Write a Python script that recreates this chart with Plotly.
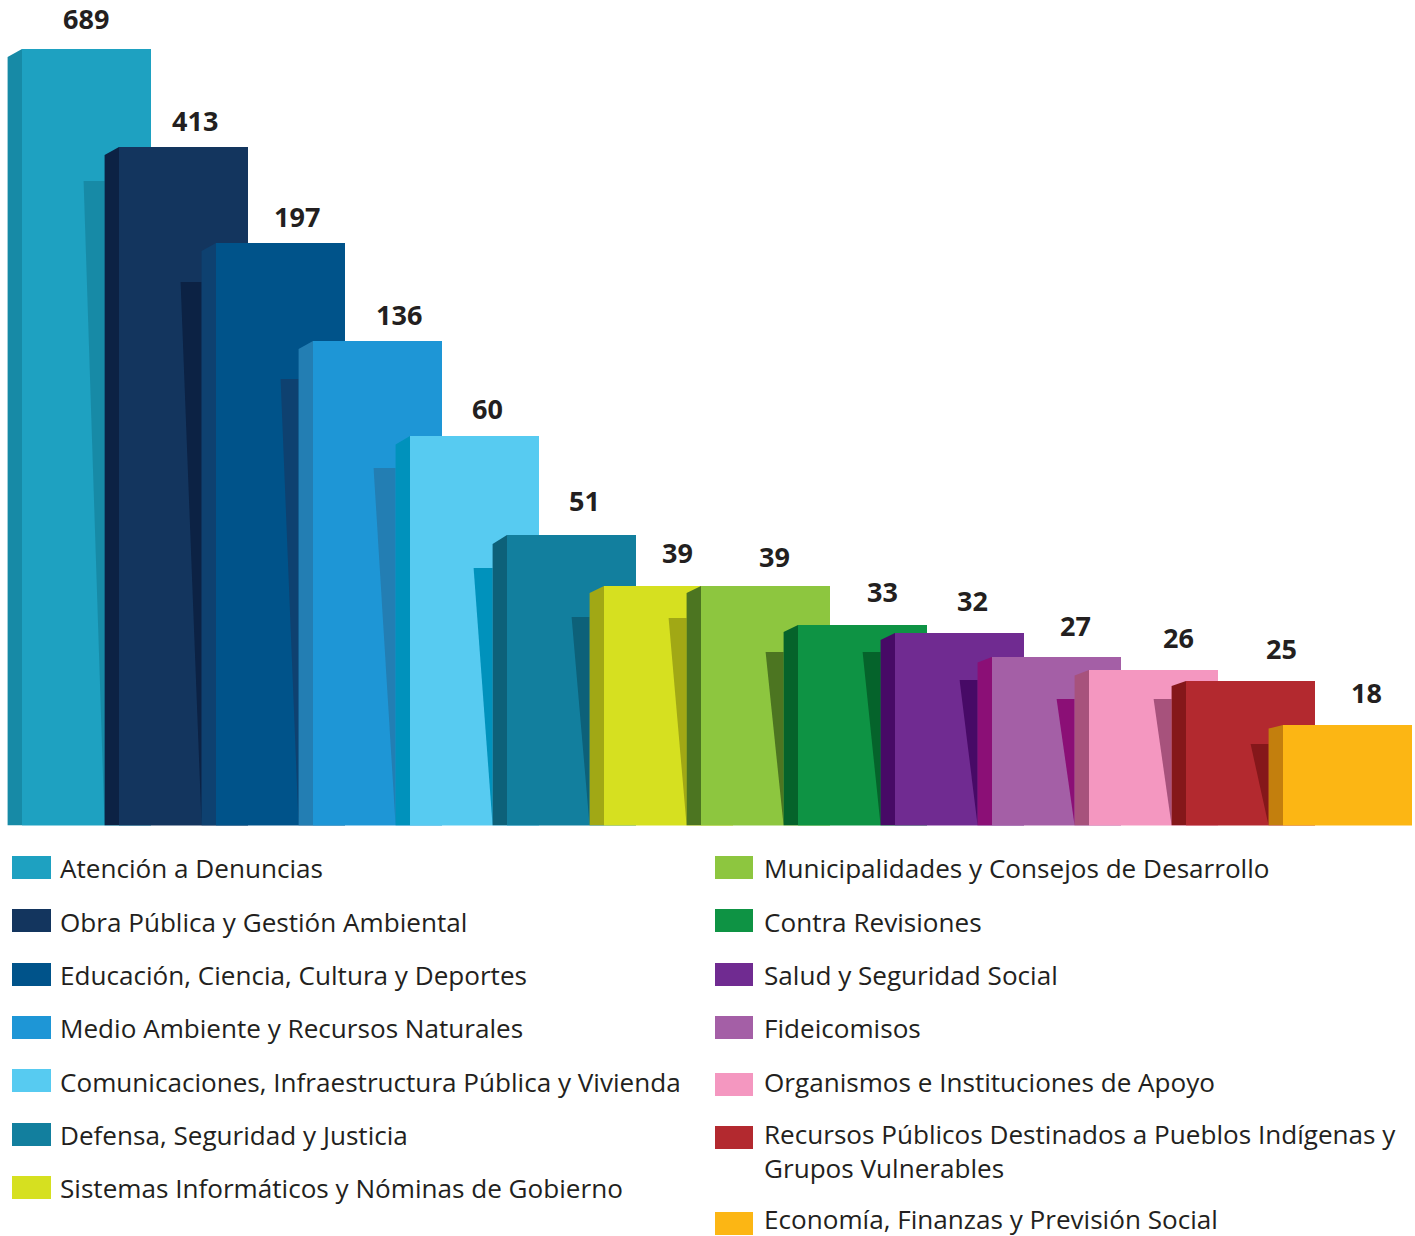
import plotly.graph_objects as go

# ---- data ----
categories = [
    "Atención a Denuncias", "Obra Pública y Gestión Ambiental",
    "Educación, Ciencia, Cultura y Deportes", "Medio Ambiente y Recursos Naturales",
    "Comunicaciones, Infraestructura Pública y Vivienda", "Defensa, Seguridad y Justicia",
    "Sistemas Informáticos y Nóminas de Gobierno", "Municipalidades y Consejos de Desarrollo",
    "Contra Revisiones", "Salud y Seguridad Social", "Fideicomisos",
    "Organismos e Instituciones de Apoyo",
    "Recursos Públicos Destinados a Pueblos Indígenas y<br>Grupos Vulnerables",
    "Economía, Finanzas y Previsión Social",
]
values = [689, 413, 197, 136, 60, 51, 39, 39, 33, 32, 27, 26, 25, 18]
# the original's bars are not to a linear scale: drawn height
drawn_height = [776.5, 678.5, 582.5, 484.5, 389.5, 290.5, 239.5, 239.5, 200.5, 192.5, 168.5, 155.5, 144.5, 100.5]
shadow_height = [644.5, 543.5, 446.5, 357.5, 257.5, 208.5, 207.5, 173.5, 173.5, 145.5, 126.5, 126.5, 81.5]
front_colors = ["#1EA1C1", "#13355E", "#00538A", "#1E96D6", "#57CBF1", "#127F9E", "#D6E020",
                "#8DC63F", "#0E9344", "#702B91", "#A45FA6", "#F497C0", "#B3292F", "#FCB614"]
side_colors = ["#178AA6", "#0C2244", "#0E4170", "#237EB3", "#0092BC", "#0D6179", "#A1A815",
               "#4C7521", "#05632B", "#470A66", "#8B0F76", "#A7527C", "#85171A", "#C37F0D"]

# ---- layout constants (pixels) ----
W, H = 1415, 1236
BASE = 825.5
PITCH = 97.0
BAR_W = 129.0
FIRST_CENTER = 86.5
SIDE_W = 14.4
shadow_w = [21, 21, 18, 22, 19, 18, 18, 18, 18, 18, 18, 18, 18]
side_drop = [8, 8, 8, 8, 8.5, 9, 7, 7, 7, 7, 5.5, 5.5, 5, 3.5]
label_dx = [-1, 11, 16, 21, 13, 13, 9, 9, 20, 13, 19, 25, 31, 19]
label_dy = [31, 27, 27, 27, 28, 35, 34, 30, 34, 33, 32, 33, 33, 33]
swatch_top = [856, 909, 963, 1016, 1069, 1123, 1176, 856, 909, 963, 1016, 1073, 1126, 1212]
text_row = [867.5, 921.5, 974.5, 1027.5, 1081.5, 1134.5, 1187.5,
            867.5, 921.5, 974.5, 1027.5, 1081.5, 1150.5, 1218.5]
SWATCH_H = 23
FONT = "Open Sans"
TEXT = "#231F20"
LABEL_SIZE = 27
LEGEND_SIZE = 26.1

n = len(values)
idx = list(range(n))
unit = 1 / PITCH

fig = go.Figure()
# front faces: one bar trace per category, later ones paint over earlier ones
for i in idx:
    fig.add_trace(go.Bar(x=[i], y=[drawn_height[i]], width=BAR_W * unit,
                         marker=dict(color=front_colors[i], line=dict(width=0)),
                         name=categories[i], showlegend=False))
# shaded faces and cast shadows
for i in idx:
    left = i - (BAR_W / 2) * unit
    h = drawn_height[i]
    fig.add_trace(go.Scatter(
        x=[left - SIDE_W * unit, left, left, left - SIDE_W * unit, left - SIDE_W * unit],
        y=[h - side_drop[i], h, 0, 0, h - side_drop[i]],
        mode="lines", line=dict(width=0), fill="toself", fillcolor=side_colors[i],
        showlegend=False, hoverinfo="skip"))
    if i < len(shadow_height):
        right = left + (PITCH - SIDE_W) * unit
        s = shadow_height[i]
        fig.add_trace(go.Scatter(
            x=[right - shadow_w[i] * unit, right, right, right - shadow_w[i] * unit],
            y=[s, s, 0, s],
            mode="lines", line=dict(width=0), fill="toself", fillcolor=side_colors[i],
            showlegend=False, hoverinfo="skip"))

annotations = []
for i in idx:
    annotations.append(dict(x=i, y=drawn_height[i], xref="x", yref="y", text=f"<b>{values[i]}</b>",
                            showarrow=False, xanchor="center", yanchor="middle",
                            xshift=label_dx[i], yshift=label_dy[i],
                            font=dict(family=FONT, size=LABEL_SIZE, color=TEXT)))

# legend drawn as swatches + text, in two columns, as in the original
shapes = []
for i, cat in enumerate(categories):
    col2 = i >= 7
    sx0, sx1, tx = (715, 753, 764) if col2 else (12, 51, 60)
    shapes.append(dict(type="rect", xref="paper", yref="paper",
                       x0=sx0 / W, x1=sx1 / W,
                       y0=1 - (swatch_top[i] + SWATCH_H) / H, y1=1 - swatch_top[i] / H,
                       fillcolor=front_colors[i], line=dict(width=0), layer="above"))
    annotations.append(dict(x=tx / W, y=1 - text_row[i] / H, xref="paper", yref="paper",
                            text=cat, showarrow=False, xanchor="left", yanchor="middle", align="left",
                            xshift=-2.5, font=dict(family=FONT, size=LEGEND_SIZE, color=TEXT)))

fig.update_layout(
    width=W, height=H, margin=dict(l=0, r=0, t=0, b=0, pad=0, autoexpand=False),
    paper_bgcolor="white", plot_bgcolor="white", barmode="overlay", bargap=0,
    showlegend=False, annotations=annotations, shapes=shapes,
    font=dict(family=FONT),
    xaxis=dict(range=[-FIRST_CENTER * unit, (W - FIRST_CENTER) * unit], visible=False, fixedrange=True),
    yaxis=dict(range=[0, BASE], domain=[1 - BASE / H, 1], visible=False, fixedrange=True),
)

fig.write_html("out.html", config=dict(displayModeBar=False),
               post_script="document.body.style.margin='0';")
